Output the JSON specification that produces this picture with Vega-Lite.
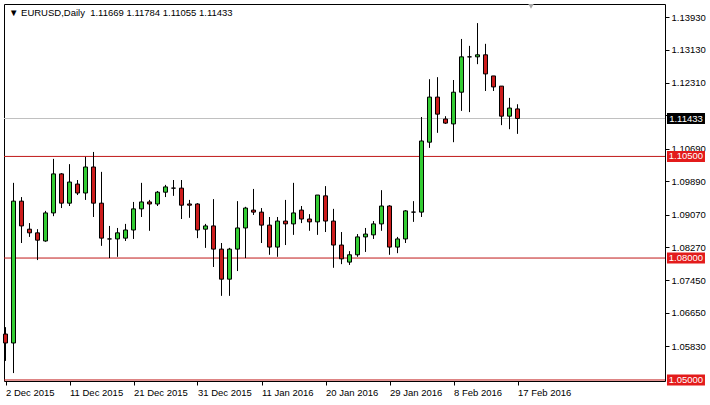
{
  "$schema": "https://vega.github.io/schema/vega-lite/v6.json",
  "width": 661,
  "height": 377,
  "autosize": "none",
  "padding": {"left": 4, "top": 4, "right": 45, "bottom": 24},
  "background": "white",
  "config": {
    "view": {"stroke": "black", "strokeWidth": 1},
    "font": "Liberation Sans",
    "axis": {"labelOverlap": false, "labelBound": false, "labelFlush": false}
  },
  "title": {
    "text": "▼ EURUSD,Daily\u00a0 1.11669 1.11784 1.11055 1.11433",
    "anchor": "start",
    "frame": "group",
    "orient": "top",
    "baseline": "middle",
    "offset": 0,
    "dx": 5,
    "dy": 18,
    "font": "Liberation Sans",
    "fontSize": 9.5,
    "fontWeight": "normal",
    "color": "black"
  },
  "datasets": {
    "candles": [
      {"i": 0, "d": "2015-12-02", "o": 1.0613, "h": 1.0630, "l": 1.0547, "c": 1.0591},
      {"i": 1, "d": "2015-12-03", "o": 1.0591, "h": 1.0985, "l": 1.0517, "c": 1.0940},
      {"i": 2, "d": "2015-12-04", "o": 1.0940, "h": 1.0950, "l": 1.0837, "c": 1.0879},
      {"i": 3, "d": "2015-12-06", "o": 1.0871, "h": 1.0886, "l": 1.0852, "c": 1.0862},
      {"i": 4, "d": "2015-12-07", "o": 1.0862, "h": 1.0871, "l": 1.0795, "c": 1.0844},
      {"i": 5, "d": "2015-12-08", "o": 1.0842, "h": 1.0916, "l": 1.0840, "c": 1.0911},
      {"i": 6, "d": "2015-12-09", "o": 1.0911, "h": 1.1044, "l": 1.0903, "c": 1.1007},
      {"i": 7, "d": "2015-12-10", "o": 1.1007, "h": 1.1009, "l": 1.0923, "c": 1.0935},
      {"i": 8, "d": "2015-12-11", "o": 1.0935, "h": 1.1031, "l": 1.0928, "c": 1.0987},
      {"i": 9, "d": "2015-12-13", "o": 1.0982, "h": 1.0992, "l": 1.0955, "c": 1.0960},
      {"i": 10, "d": "2015-12-14", "o": 1.0960, "h": 1.1049, "l": 1.0943, "c": 1.1024},
      {"i": 11, "d": "2015-12-15", "o": 1.1024, "h": 1.1061, "l": 1.0901, "c": 1.0935},
      {"i": 12, "d": "2015-12-16", "o": 1.0935, "h": 1.1012, "l": 1.0830, "c": 1.0849},
      {"i": 13, "d": "2015-12-17", "o": 1.0847, "h": 1.0879, "l": 1.0800, "c": 1.0847},
      {"i": 14, "d": "2015-12-18", "o": 1.0847, "h": 1.0874, "l": 1.0803, "c": 1.0862},
      {"i": 15, "d": "2015-12-20", "o": 1.0849, "h": 1.0884, "l": 1.0842, "c": 1.0869},
      {"i": 16, "d": "2015-12-21", "o": 1.0869, "h": 1.0938, "l": 1.0847, "c": 1.0921},
      {"i": 17, "d": "2015-12-22", "o": 1.0921, "h": 1.0985, "l": 1.0901, "c": 1.0938},
      {"i": 18, "d": "2015-12-23", "o": 1.0938, "h": 1.0943, "l": 1.0867, "c": 1.0933},
      {"i": 19, "d": "2015-12-24", "o": 1.0933, "h": 1.0965, "l": 1.0928, "c": 1.0962},
      {"i": 20, "d": "2015-12-27", "o": 1.0962, "h": 1.0980, "l": 1.0950, "c": 1.0975},
      {"i": 21, "d": "2015-12-28", "o": 1.0972, "h": 1.0992, "l": 1.0953, "c": 1.0972},
      {"i": 22, "d": "2015-12-29", "o": 1.0972, "h": 1.0992, "l": 1.0896, "c": 1.0930},
      {"i": 23, "d": "2015-12-30", "o": 1.0933, "h": 1.0943, "l": 1.0899, "c": 1.0930},
      {"i": 24, "d": "2015-12-31", "o": 1.0933, "h": 1.0935, "l": 1.0849, "c": 1.0869},
      {"i": 25, "d": "2016-01-03", "o": 1.0871, "h": 1.0884, "l": 1.0825, "c": 1.0879},
      {"i": 26, "d": "2016-01-04", "o": 1.0879, "h": 1.0945, "l": 1.0778, "c": 1.0822},
      {"i": 27, "d": "2016-01-05", "o": 1.0822, "h": 1.0837, "l": 1.0707, "c": 1.0748},
      {"i": 28, "d": "2016-01-06", "o": 1.0748, "h": 1.0825, "l": 1.0707, "c": 1.0822},
      {"i": 29, "d": "2016-01-07", "o": 1.0822, "h": 1.0940, "l": 1.0768, "c": 1.0874},
      {"i": 30, "d": "2016-01-08", "o": 1.0874, "h": 1.0926, "l": 1.0800, "c": 1.0923},
      {"i": 31, "d": "2016-01-10", "o": 1.0918, "h": 1.0970, "l": 1.0906, "c": 1.0913},
      {"i": 32, "d": "2016-01-11", "o": 1.0913, "h": 1.0923, "l": 1.0837, "c": 1.0881},
      {"i": 33, "d": "2016-01-12", "o": 1.0881, "h": 1.0901, "l": 1.0808, "c": 1.0827},
      {"i": 34, "d": "2016-01-13", "o": 1.0827, "h": 1.0901, "l": 1.0803, "c": 1.0891},
      {"i": 35, "d": "2016-01-14", "o": 1.0891, "h": 1.0943, "l": 1.0832, "c": 1.0884},
      {"i": 36, "d": "2016-01-15", "o": 1.0884, "h": 1.0985, "l": 1.0857, "c": 1.0911},
      {"i": 37, "d": "2016-01-17", "o": 1.0918, "h": 1.0928, "l": 1.0886, "c": 1.0896},
      {"i": 38, "d": "2016-01-18", "o": 1.0896, "h": 1.0908, "l": 1.0867, "c": 1.0889},
      {"i": 39, "d": "2016-01-19", "o": 1.0889, "h": 1.0955, "l": 1.0857, "c": 1.0955},
      {"i": 40, "d": "2016-01-20", "o": 1.0953, "h": 1.0977, "l": 1.0864, "c": 1.0891},
      {"i": 41, "d": "2016-01-21", "o": 1.0891, "h": 1.0921, "l": 1.0776, "c": 1.0832},
      {"i": 42, "d": "2016-01-22", "o": 1.0832, "h": 1.0864, "l": 1.0785, "c": 1.0798},
      {"i": 43, "d": "2016-01-24", "o": 1.0790, "h": 1.0817, "l": 1.0783, "c": 1.0808},
      {"i": 44, "d": "2016-01-25", "o": 1.0808, "h": 1.0859, "l": 1.0803, "c": 1.0852},
      {"i": 45, "d": "2016-01-26", "o": 1.0852, "h": 1.0874, "l": 1.0815, "c": 1.0859},
      {"i": 46, "d": "2016-01-27", "o": 1.0857, "h": 1.0891, "l": 1.0847, "c": 1.0884},
      {"i": 47, "d": "2016-01-28", "o": 1.0884, "h": 1.0967, "l": 1.0867, "c": 1.0928},
      {"i": 48, "d": "2016-01-29", "o": 1.0928, "h": 1.0930, "l": 1.0808, "c": 1.0827},
      {"i": 49, "d": "2016-01-31", "o": 1.0827, "h": 1.0852, "l": 1.0812, "c": 1.0847},
      {"i": 50, "d": "2016-02-01", "o": 1.0847, "h": 1.0918, "l": 1.0837, "c": 1.0916},
      {"i": 51, "d": "2016-02-02", "o": 1.0913, "h": 1.0940, "l": 1.0889, "c": 1.0913},
      {"i": 52, "d": "2016-02-03", "o": 1.0913, "h": 1.1147, "l": 1.0901, "c": 1.1088},
      {"i": 53, "d": "2016-02-04", "o": 1.1085, "h": 1.1240, "l": 1.1071, "c": 1.1196},
      {"i": 54, "d": "2016-02-05", "o": 1.1196, "h": 1.1245, "l": 1.1108, "c": 1.1154},
      {"i": 55, "d": "2016-02-07", "o": 1.1142, "h": 1.1149, "l": 1.1130, "c": 1.1132},
      {"i": 56, "d": "2016-02-08", "o": 1.1130, "h": 1.1238, "l": 1.1085, "c": 1.1208},
      {"i": 57, "d": "2016-02-09", "o": 1.1208, "h": 1.1339, "l": 1.1162, "c": 1.1295},
      {"i": 58, "d": "2016-02-10", "o": 1.1295, "h": 1.1322, "l": 1.1159, "c": 1.1295},
      {"i": 59, "d": "2016-02-11", "o": 1.1295, "h": 1.1378, "l": 1.1277, "c": 1.1300},
      {"i": 60, "d": "2016-02-12", "o": 1.1300, "h": 1.1327, "l": 1.1211, "c": 1.1253},
      {"i": 61, "d": "2016-02-14", "o": 1.1248, "h": 1.1248, "l": 1.1211, "c": 1.1221},
      {"i": 62, "d": "2016-02-15", "o": 1.1223, "h": 1.1223, "l": 1.1127, "c": 1.1149},
      {"i": 63, "d": "2016-02-16", "o": 1.1149, "h": 1.1194, "l": 1.1117, "c": 1.1169},
      {"i": 64, "d": "2016-02-17", "o": 1.11669, "h": 1.11784, "l": 1.11055, "c": 1.11433}
    ],
    "levels": [
      {"p": 1.105},
      {"p": 1.08},
      {"p": 1.05}
    ],
    "bid": [
      {"p": 1.11433}
    ],
    "tags": [
      {"p": 1.11433, "kind": "bid"},
      {"p": 1.105, "kind": "level"},
      {"p": 1.08, "kind": "level"},
      {"p": 1.05, "kind": "level"}
    ]
  },
  "layer": [
    {
      "data": {"name": "levels"},
      "mark": {"type": "rule", "color": "#c01818", "strokeWidth": 1},
      "encoding": {
        "y": {
          "field": "p",
          "type": "quantitative",
          "scale": {"domain": [1.04975, 1.1425], "nice": false, "zero": false, "padding": 0},
          "axis": {
            "orient": "right",
            "title": null,
            "values": [1.0583, 1.0665, 1.0745, 1.0827, 1.0907, 1.0989, 1.1069, 1.1151, 1.1231, 1.1313, 1.1393],
            "tickCount": 30,
            "format": ".5f",
            "domain": false,
            "grid": false,
            "ticks": true,
            "tickSize": 4,
            "tickColor": "black",
            "labelColor": "black",
            "labelFont": "Liberation Sans",
            "labelFontSize": 9.5,
            "labelPadding": 2,
            "labelOverlap": false,
            "labelBound": false
          }
        }
      }
    },
    {
      "data": {"name": "bid"},
      "mark": {"type": "rule", "color": "#c0c0c0", "strokeWidth": 1},
      "encoding": {
        "y": {"field": "p", "type": "quantitative"}
      }
    },
    {
      "data": {"name": "candles"},
      "mark": {"type": "rule", "color": "black", "strokeWidth": 1},
      "encoding": {
        "x": {
          "field": "i",
          "type": "quantitative",
          "scale": {"domain": [-0.1875, 82.4375], "nice": false, "zero": false, "padding": 0},
          "axis": {
            "orient": "bottom",
            "title": null,
            "values": [0, 8, 16, 24, 32, 40, 48, 56, 64],
            "tickCount": 30,
            "labelExpr": "['2 Dec 2015','11 Dec 2015','21 Dec 2015','31 Dec 2015','11 Jan 2016','20 Jan 2016','29 Jan 2016','8 Feb 2016','17 Feb 2016'][round(datum.value / 8)]",
            "labelAlign": "left",
            "labelBaseline": "top",
            "labelFlush": false,
            "labelOverlap": false,
            "labelBound": false,
            "domain": false,
            "grid": false,
            "tickSize": 4,
            "tickColor": "black",
            "labelColor": "black",
            "labelFont": "Liberation Sans",
            "labelFontSize": 9.5,
            "labelPadding": 2
          }
        },
        "y": {"field": "l", "type": "quantitative"},
        "y2": {"field": "h"}
      }
    },
    {
      "data": {"name": "candles"},
      "mark": {"type": "bar", "size": 4, "stroke": "black", "strokeWidth": 1},
      "encoding": {
        "x": {"field": "i", "type": "quantitative"},
        "y": {"field": "o", "type": "quantitative"},
        "y2": {"field": "c"},
        "fill": {
          "condition": {"test": "datum.c >= datum.o", "value": "#33cc33"},
          "value": "#cc1c1c"
        }
      }
    },
    {
      "data": {"name": "tags"},
      "mark": {"type": "tick", "orient": "horizontal", "size": 38, "thickness": 11, "opacity": 1},
      "encoding": {
        "x": {"datum": 85.06},
        "y": {"field": "p", "type": "quantitative"},
        "color": {
          "condition": {"test": "datum.kind === 'bid'", "value": "black"},
          "value": "#e31b1b"
        }
      }
    },
    {
      "data": {"name": "tags"},
      "mark": {"type": "text", "color": "white", "font": "Liberation Sans", "fontSize": 9.5, "align": "center", "baseline": "middle"},
      "encoding": {
        "x": {"datum": 85.06},
        "y": {"field": "p", "type": "quantitative"},
        "text": {"field": "p", "type": "quantitative", "format": ".5f"}
      }
    },
    {
      "data": {"values": [{}]},
      "mark": {"type": "point", "shape": "triangle-down", "filled": true, "color": "#a8a8a8", "size": 30, "opacity": 1},
      "encoding": {
        "x": {"datum": 65.69},
        "y": {"datum": 1.1419}
      }
    }
  ]
}
